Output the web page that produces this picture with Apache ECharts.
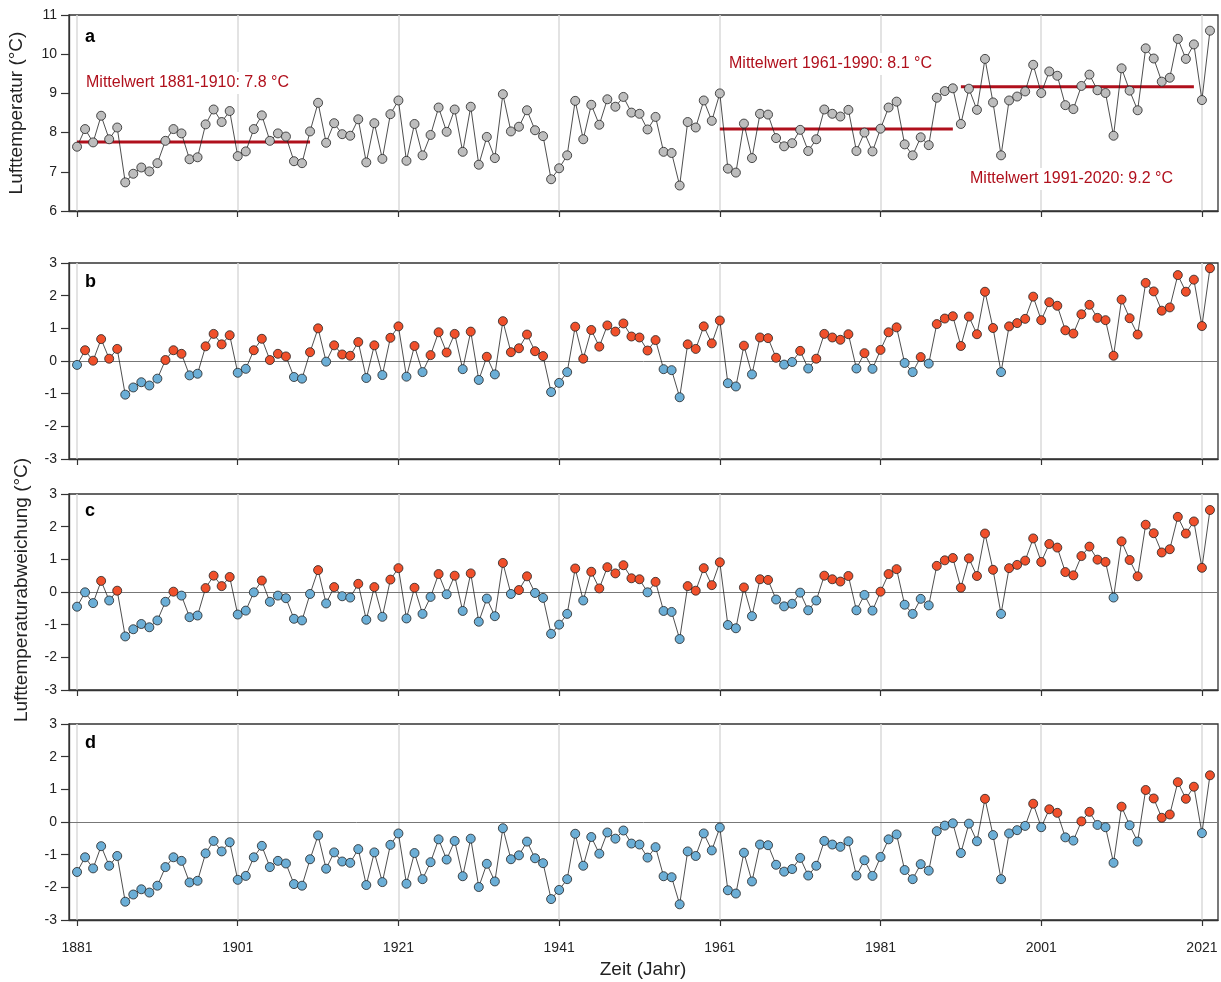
<!DOCTYPE html>
<html>
<head>
<meta charset="utf-8">
<script src="https://cdn.jsdelivr.net/npm/echarts@6/dist/echarts.min.js"></script>
<style>
html, body { margin: 0; padding: 0; background: #ffffff; }
#chart { width: 1221px; height: 982px; }
</style>
</head>
<body>
<div id="chart"></div>
<script>
// ---------------- DATA ----------------
const FIRST_YEAR = 1881;

// Panel a: annual mean air temperature (°C), 1881-2022
const tempAbs = [
  7.64, 8.09, 7.75, 8.43, 7.83, 8.13, 6.73, 6.95, 7.11, 7.01,
  7.22, 7.79, 8.09, 7.98, 7.32, 7.37, 8.21, 8.59, 8.27, 8.55,
  7.40, 7.52, 8.09, 8.44, 7.79, 7.98, 7.90, 7.27, 7.22, 8.03,
  8.76, 7.74, 8.24, 7.96, 7.92, 8.34, 7.24, 8.24, 7.33, 8.47,
  8.82, 7.28, 8.22, 7.42, 7.94, 8.64, 8.02, 8.59, 7.51, 8.66,
  7.18, 7.89, 7.35, 8.98, 8.03, 8.15, 8.57, 8.06, 7.91, 6.81,
  7.09, 7.42, 8.81, 7.83, 8.71, 8.20, 8.85, 8.66, 8.91, 8.51,
  8.48, 8.08, 8.40, 7.51, 7.48, 6.65, 8.27, 8.13, 8.82, 8.30,
  9.00, 7.08, 6.98, 8.23, 7.35, 8.48, 8.46, 7.86, 7.65, 7.73,
  8.07, 7.53, 7.83, 8.59, 8.48, 8.41, 8.58, 7.53, 8.00, 7.52,
  8.10, 8.64, 8.79, 7.70, 7.42, 7.88, 7.68, 8.89, 9.06, 9.13,
  8.22, 9.12, 8.58, 9.88, 8.77, 7.42, 8.82, 8.92, 9.05, 9.73,
  9.01, 9.56, 9.45, 8.70, 8.60, 9.19, 9.48, 9.08, 9.01, 7.92,
  9.64, 9.07, 8.57, 10.15, 9.89, 9.30, 9.40, 10.39, 9.88, 10.25,
  8.83, 10.60
];

// Panel b: anomaly vs. 1881-1910
const anomB = [
  -0.12, 0.33, 0.01, 0.67, 0.07, 0.37, -1.03, -0.81, -0.65, -0.75,
  -0.54, 0.03, 0.33, 0.22, -0.44, -0.39, 0.45, 0.83, 0.51, 0.79,
  -0.36, -0.24, 0.33, 0.68, 0.03, 0.22, 0.14, -0.49, -0.54, 0.27,
  1.00, -0.02, 0.48, 0.20, 0.16, 0.58, -0.52, 0.48, -0.43, 0.71,
  1.06, -0.48, 0.46, -0.34, 0.18, 0.88, 0.26, 0.83, -0.25, 0.90,
  -0.58, 0.13, -0.41, 1.22, 0.27, 0.39, 0.81, 0.30, 0.15, -0.95,
  -0.67, -0.34, 1.05, 0.07, 0.95, 0.44, 1.09, 0.90, 1.15, 0.75,
  0.72, 0.32, 0.64, -0.25, -0.28, -1.11, 0.51, 0.37, 1.06, 0.54,
  1.24, -0.68, -0.78, 0.47, -0.41, 0.72, 0.70, 0.10, -0.11, -0.03,
  0.31, -0.23, 0.07, 0.83, 0.72, 0.65, 0.82, -0.23, 0.24, -0.24,
  0.34, 0.88, 1.03, -0.06, -0.34, 0.12, -0.08, 1.13, 1.30, 1.37,
  0.46, 1.36, 0.82, 2.12, 1.01, -0.34, 1.06, 1.16, 1.29, 1.97,
  1.25, 1.80, 1.69, 0.94, 0.84, 1.43, 1.72, 1.32, 1.25, 0.16,
  1.88, 1.31, 0.81, 2.39, 2.13, 1.54, 1.64, 2.63, 2.12, 2.49,
  1.07, 2.84
];

// Panel c: anomaly vs. 1961-1990
const anomC = [
  -0.45, -0.01, -0.34, 0.34, -0.26, 0.04, -1.36, -1.14, -0.98, -1.08,
  -0.87, -0.30, 0.01, -0.11, -0.77, -0.72, 0.12, 0.50, 0.18, 0.46,
  -0.69, -0.57, -0.01, 0.35, -0.30, -0.11, -0.19, -0.82, -0.87, -0.06,
  0.67, -0.35, 0.15, -0.13, -0.17, 0.25, -0.85, 0.15, -0.76, 0.38,
  0.73, -0.81, 0.13, -0.67, -0.15, 0.55, -0.07, 0.50, -0.58, 0.57,
  -0.91, -0.20, -0.74, 0.89, -0.06, 0.06, 0.48, -0.03, -0.18, -1.28,
  -1.00, -0.67, 0.72, -0.26, 0.62, 0.11, 0.76, 0.57, 0.82, 0.42,
  0.39, -0.01, 0.31, -0.58, -0.61, -1.44, 0.18, 0.04, 0.73, 0.21,
  0.91, -1.01, -1.11, 0.14, -0.74, 0.39, 0.37, -0.23, -0.44, -0.36,
  -0.02, -0.56, -0.26, 0.50, 0.39, 0.32, 0.49, -0.56, -0.09, -0.57,
  0.01, 0.55, 0.70, -0.39, -0.67, -0.21, -0.41, 0.80, 0.97, 1.04,
  0.13, 1.03, 0.49, 1.79, 0.68, -0.67, 0.73, 0.83, 0.96, 1.64,
  0.92, 1.47, 1.36, 0.61, 0.51, 1.10, 1.39, 0.99, 0.92, -0.17,
  1.55, 0.98, 0.48, 2.06, 1.80, 1.21, 1.31, 2.30, 1.79, 2.16,
  0.74, 2.51
];

// Panel d: anomaly vs. 1991-2020
const anomD = [
  -1.53, -1.08, -1.42, -0.74, -1.34, -1.04, -2.44, -2.22, -2.06, -2.16,
  -1.95, -1.38, -1.08, -1.19, -1.85, -1.80, -0.96, -0.58, -0.90, -0.62,
  -1.77, -1.65, -1.08, -0.73, -1.38, -1.19, -1.27, -1.90, -1.95, -1.14,
  -0.41, -1.43, -0.93, -1.21, -1.25, -0.83, -1.93, -0.93, -1.84, -0.70,
  -0.35, -1.89, -0.95, -1.75, -1.23, -0.53, -1.15, -0.58, -1.66, -0.51,
  -1.99, -1.28, -1.82, -0.19, -1.14, -1.02, -0.60, -1.11, -1.26, -2.36,
  -2.08, -1.75, -0.36, -1.34, -0.46, -0.97, -0.32, -0.51, -0.26, -0.66,
  -0.69, -1.09, -0.77, -1.66, -1.69, -2.52, -0.90, -1.04, -0.35, -0.87,
  -0.17, -2.09, -2.19, -0.94, -1.82, -0.69, -0.71, -1.31, -1.52, -1.44,
  -1.10, -1.64, -1.34, -0.58, -0.69, -0.76, -0.59, -1.64, -1.17, -1.65,
  -1.07, -0.53, -0.38, -1.47, -1.75, -1.29, -1.49, -0.28, -0.11, -0.04,
  -0.95, -0.05, -0.59, 0.71, -0.40, -1.75, -0.35, -0.25, -0.12, 0.56,
  -0.16, 0.39, 0.28, -0.47, -0.57, 0.02, 0.31, -0.09, -0.16, -1.25,
  0.47, -0.10, -0.60, 0.98, 0.72, 0.13, 0.23, 1.22, 0.71, 1.08,
  -0.34, 1.43
];

const tickYears = [1881, 1901, 1921, 1941, 1961, 1981, 2001, 2021];
const meanPeriods = [[1881, 1910], [1961, 1990], [1991, 2020]];
const meanValues = [7.76, 8.09, 9.17];
const meanLabels = [
  'Mittelwert 1881-1910: 7.8 °C',
  'Mittelwert 1961-1990: 8.1 °C',
  'Mittelwert 1991-2020: 9.2 °C'
];
const panelLetters = ['a', 'b', 'c', 'd'];
const yTitleA = 'Lufttemperatur (°C)';
const yTitleAnom = 'Lufttemperaturabweichung (°C)';
const xTitle = 'Zeit (Jahr)';

// ---------------- STYLE / LAYOUT ----------------
const FONT = '"Liberation Sans", Arial, Helvetica, sans-serif';
const RED = '#f0502b';
const BLUE = '#6baed6';
const GRAY = '#bdbdbd';
const MEAN_RED = '#b0101c';
const AXIS_COLOR = '#333333';
const GRID_LEFT = 69, GRID_RIGHT = 3, GRID_H = 196;
const gridTops = [15, 263, 494, 724];

const years = tempAbs.map((_, i) => FIRST_YEAR + i);

const panels = [
  { vals: tempAbs, yMin: 6, yMax: 11, anomaly: false },
  { vals: anomB, yMin: -3, yMax: 3, anomaly: true },
  { vals: anomC, yMin: -3, yMax: 3, anomaly: true },
  { vals: anomD, yMin: -3, yMax: 3, anomaly: true }
];

const grids = panels.map((p, i) => ({
  left: GRID_LEFT, right: GRID_RIGHT, top: gridTops[i], height: GRID_H,
  show: true, borderColor: AXIS_COLOR, borderWidth: 1.3, backgroundColor: 'transparent'
}));

const xAxes = panels.map((p, i) => ({
  gridIndex: i, type: 'value', min: 1880, max: 2023,
  axisLine: { show: true, onZero: false, lineStyle: { color: AXIS_COLOR, width: 1.3 } },
  axisTick: { show: true, inside: false, length: 6, customValues: tickYears, lineStyle: { color: AXIS_COLOR, width: 1.2 } },
  axisLabel: {
    show: i === panels.length - 1, customValues: tickYears, margin: 21,
    fontSize: 14, fontFamily: FONT, color: '#222',
    formatter: v => String(v)
  },
  splitLine: { show: false }
}));

const yAxes = panels.map((p, i) => ({
  gridIndex: i, type: 'value', min: p.yMin, max: p.yMax, interval: 1,
  axisLine: { show: true, lineStyle: { color: AXIS_COLOR, width: 1.3 } },
  axisTick: { show: true, inside: false, length: 8, lineStyle: { color: AXIS_COLOR, width: 1.2 } },
  axisLabel: { margin: 12, fontSize: 14, fontFamily: FONT, color: '#222' },
  splitLine: { show: false }
}));

const series = [];
panels.forEach((p, i) => {
  // background reference lines (vertical grid + zero line)
  const refLines = tickYears.map(y => ({
    xAxis: y, lineStyle: { color: '#dadada', width: 1.5, type: 'solid' }
  }));
  if (p.anomaly) {
    refLines.push({ yAxis: 0, lineStyle: { color: '#777777', width: 1, type: 'solid' } });
  }
  series.push({
    type: 'line', xAxisIndex: i, yAxisIndex: i, data: [], silent: true, z: 0,
    markLine: {
      silent: true, z: 0, symbol: ['none', 'none'], animation: false,
      label: { show: false }, emphasis: { disabled: true },
      data: refLines
    }
  });
});

// mean lines in panel a
meanPeriods.forEach((per, k) => {
  series.push({
    type: 'line', xAxisIndex: 0, yAxisIndex: 0, z: 2, silent: true,
    symbol: 'none', animation: false,
    lineStyle: { color: MEAN_RED, width: 3 },
    data: [[per[0], meanValues[k]], [per[1], meanValues[k]]]
  });
});

// main data series
panels.forEach((p, i) => {
  series.push({
    type: 'line', xAxisIndex: i, yAxisIndex: i, z: 3,
    symbol: 'circle', symbolSize: 9, showAllSymbol: true, animation: false,
    lineStyle: { color: '#222', width: 0.8 },
    itemStyle: { borderColor: '#222', borderWidth: 0.8 },
    data: p.vals.map((v, k) => ({
      value: [years[k], v],
      itemStyle: { color: p.anomaly ? (v >= 0 ? RED : BLUE) : GRAY }
    }))
  });
});

// texts
const graphics = [];
const letterY = [38, 283, 512, 744];
panelLetters.forEach((l, i) => {
  graphics.push({
    type: 'text', left: 85, top: letterY[i] - 10, silent: true,
    style: { text: l, fontSize: 18, fontWeight: 'bold', fontFamily: FONT, fill: '#000' }
  });
});
const meanLabelPos = [[84, 83], [727, 64], [968, 179]];
meanLabels.forEach((t, k) => {
  graphics.push({
    type: 'text', x: meanLabelPos[k][0], y: meanLabelPos[k][1], z: 10, silent: true,
    style: {
      text: t, fontSize: 16, fontFamily: FONT, fill: MEAN_RED,
      align: 'left', verticalAlign: 'middle',
      backgroundColor: '#ffffff', padding: [3, 2, 3, 2]
    }
  });
});
graphics.push({
  type: 'text', x: 17, y: 113, rotation: Math.PI / 2, silent: true,
  style: { text: yTitleA, fontSize: 19, fontFamily: FONT, fill: '#222', align: 'center', verticalAlign: 'middle' }
});
graphics.push({
  type: 'text', x: 22, y: 590, rotation: Math.PI / 2, silent: true,
  style: { text: yTitleAnom, fontSize: 19, fontFamily: FONT, fill: '#222', align: 'center', verticalAlign: 'middle' }
});
graphics.push({
  type: 'text', x: 643, y: 970, silent: true,
  style: { text: xTitle, fontSize: 19, fontFamily: FONT, fill: '#222', align: 'center', verticalAlign: 'middle' }
});

const chart = echarts.init(document.getElementById('chart'), null, { renderer: 'canvas' });
chart.setOption({
  backgroundColor: '#ffffff',
  animation: false,
  grid: grids,
  xAxis: xAxes,
  yAxis: yAxes,
  series: series,
  graphic: graphics
});
</script>
</body>
</html>
